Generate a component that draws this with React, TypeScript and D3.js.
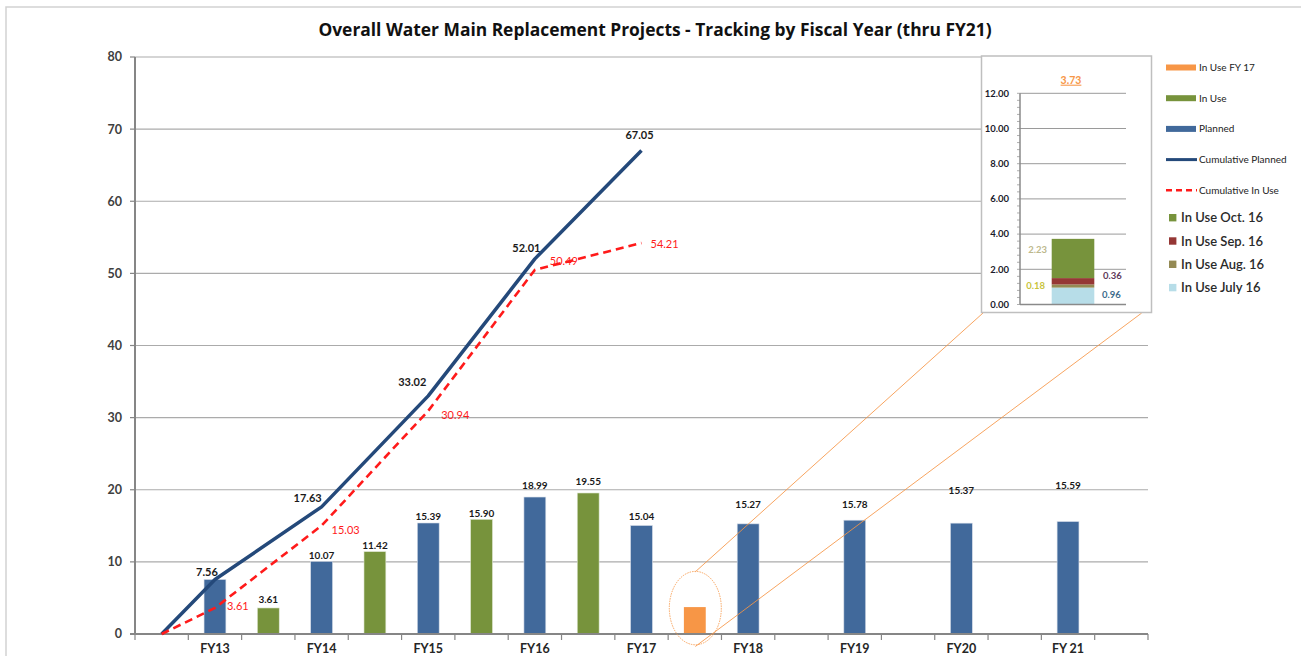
import React from "react";
import * as d3 from "d3";

// ---------- data ----------
const fiscalYears = ["FY13", "FY14", "FY15", "FY16", "FY17", "FY18", "FY19", "FY20", "FY 21"];
const planned = [7.56, 10.07, 15.39, 18.99, 15.04, 15.27, 15.78, 15.37, 15.59];
const inUse = [3.61, 11.42, 15.9, 19.55];
const inUseFY17 = 3.73;
const cumulativePlanned = [0, 7.56, 17.63, 33.02, 52.01, 67.05];
const cumulativeInUse = [0, 3.61, 15.03, 30.94, 50.49, 54.21];
const yTicks = [0, 10, 20, 30, 40, 50, 60, 70, 80];

const insetMonths = ["In Use July 16", "In Use Aug. 16", "In Use Sep. 16", "In Use Oct. 16"];
const insetValues = [0.96, 0.18, 0.36, 2.23];
const insetTicks = [0, 2, 4, 6, 8, 10, 12];

const title = "Overall Water Main Replacement Projects - Tracking by Fiscal Year (thru FY21)";

// ---------- styles ----------
const FONT = "Lato, 'Open Sans', sans-serif";
const C_PLANNED = "#41699B";
const C_INUSE = "#77933C";
const C_ORANGE = "#F79646";
const C_NAVY = "#24497A";
const C_RED = "#FF1A1A";
const insetColors = ["#B7DDE8", "#948A54", "#953735", "#77933C"];
const insetLabelColors = ["#3E6C8C", "#C8C43A", "#5E3A5A", "#BDB88C"];

// label offsets (styling, not data)
const plannedLabelLift = [0, 5.4, 6.3, 12, 9.5, 19, 16, 33, 35.6];
const inUseLabelLift = [8, 6, 6, 11];
const cumPlannedLabelOffset: [number, number][] = [[0, 0], [-8, -7.5], [-14, -9], [-16, -14], [-8.5, -11], [-2, -15]];
const cumInUseLabelOffset: [number, number][] = [[0, 0], [12, -2], [10, 4.5], [13, 4], [15, -9], [9, 1]];

export default function App() {
  const slots = d3.range(fiscalYears.length * 2 + 1);
  const x = d3.scaleBand<number>().domain(slots).range([135, 1148]).padding(0);
  const bw = x.bandwidth();
  const cx = (s: number) => (x(s) as number) + bw / 2;
  const y = d3.scaleLinear().domain([0, 80]).range([634, 57]);
  const barW = bw * 0.41;

  const plannedSlot = (i: number) => 1 + 2 * i;
  const inUseSlot = (i: number) => 2 + 2 * i;
  const cumSlot = (k: number) => (k === 0 ? 0 : 2 * k - 1);

  const line = d3
    .line<number>()
    .x((_, k) => cx(cumSlot(k)))
    .y((v) => y(v));

  // inset
  const iy = d3.scaleLinear().domain([0, 12]).range([304.5, 93.3]);
  const ix0 = 1051.7;
  const iw = 42.6;
  const stackEnds = d3.cumsum(insetValues);
  const insetTotal = d3.sum(insetValues);
  const minorTicks = d3.range(0, 12.001, 0.4);

  const inUseAll = [...inUse, inUseFY17];

  const legend1 = [
    { label: "In Use FY 17", kind: "rect", color: C_ORANGE },
    { label: "In Use", kind: "rect", color: C_INUSE },
    { label: "Planned", kind: "rect", color: C_PLANNED },
    { label: "Cumulative Planned", kind: "line", color: C_NAVY },
    { label: "Cumulative In Use", kind: "dash", color: C_RED },
  ];
  const legend2 = [3, 2, 1, 0];

  // zoom ellipse geometry
  const ex = cx(inUseSlot(4)) + 0.5;
  const ey = y(inUseFY17) + 1;

  return (
    <svg width={1301} height={656} style={{ position: "absolute", left: 0, top: 0, display: "block" }} fontFamily={FONT}>
      <rect x={0} y={0} width={1301} height={656} fill="#fff" />
      <rect x={6} y={7} width={1310} height={700} fill="#fff" stroke="#d2d2d2" strokeWidth={1.5} />
      <text x={655} y={36} textAnchor="middle" fontSize={17.4} fontWeight={700} fill="#111" fontFamily="'Open Sans', Lato, sans-serif">
        {title}
      </text>

      {/* gridlines */}
      {yTicks.map((t) => (
        <line key={"g" + t} x1={135} x2={1148} y1={y(t)} y2={y(t)} stroke="#ababab" strokeWidth={1.2} />
      ))}
      {/* y axis */}
      <line x1={135} x2={135} y1={y(80)} y2={y(0)} stroke="#868686" strokeWidth={2} />
      {yTicks.map((t) => (
        <g key={"yt" + t}>
          <line x1={130} x2={135} y1={y(t)} y2={y(t)} stroke="#868686" strokeWidth={1.2} />
          <text x={122} y={y(t)} dy="0.35em" textAnchor="end" fontSize={12.5} fontWeight={700} fill="#404040">
            {t}
          </text>
        </g>
      ))}

      {/* bars */}
      {planned.map((v, i) => (
        <rect key={"p" + i} x={cx(plannedSlot(i)) - barW / 2} y={y(v)} width={barW} height={y(0) - y(v)} fill={C_PLANNED} stroke="#d6dde8" strokeWidth={0.6} />
      ))}
      {inUseAll.map((v, i) => (
        <rect key={"u" + i} x={cx(inUseSlot(i)) - barW / 2} y={y(v)} width={barW} height={y(0) - y(v)} fill={i === 4 ? C_ORANGE : C_INUSE} stroke={i === 4 ? "none" : "#dfe6d2"} strokeWidth={0.6} />
      ))}

      {/* bar labels */}
      {planned.map((v, i) =>
        i === 0 ? null : (
          <text key={"pl" + i} x={cx(plannedSlot(i))} y={y(v) - plannedLabelLift[i]} dy="0.35em" textAnchor="middle" fontSize={10} fontWeight={700} fill="#1a1a1a">
            {v.toFixed(2)}
          </text>
        )
      )}
      {inUse.map((v, i) => (
        <text key={"ul" + i} x={cx(inUseSlot(i))} y={y(v) - inUseLabelLift[i]} dy="0.35em" textAnchor="middle" fontSize={10} fontWeight={700} fill="#1a1a1a">
          {v.toFixed(2)}
        </text>
      ))}

      {/* x axis */}
      <line x1={130} x2={1148} y1={y(0)} y2={y(0)} stroke="#868686" strokeWidth={2} />
      {[...slots, slots.length].map((s) => {
        const xx = s === slots.length ? 1148 : (x(s) as number);
        return <line key={"xt" + s} x1={xx} x2={xx} y1={y(0)} y2={y(0) + 6} stroke="#868686" strokeWidth={1.2} />;
      })}
      {fiscalYears.map((fy, i) => (
        <text key={"xl" + i} x={cx(plannedSlot(i))} y={653} textAnchor="middle" fontSize={12.5} fontWeight={700} fill="#262626">
          {fy}
        </text>
      ))}

      {/* cumulative lines */}
      <path d={line(cumulativePlanned) || ""} fill="none" stroke={C_NAVY} strokeWidth={3.5} strokeLinejoin="round" />
      <path d={line(cumulativeInUse) || ""} fill="none" stroke={C_RED} strokeWidth={2.6} strokeDasharray="8,5" />
      {cumulativePlanned.map((v, k) =>
        k === 0 ? null : (
          <text key={"cpl" + k} x={cx(cumSlot(k)) + cumPlannedLabelOffset[k][0]} y={y(v) + cumPlannedLabelOffset[k][1]} dy="0.35em" textAnchor="middle" fontSize={11} fontWeight={700} fill="#1a1a1a">
            {v.toFixed(2)}
          </text>
        )
      )}
      {cumulativeInUse.map((v, k) =>
        k === 0 ? null : (
          <text key={"cul" + k} x={cx(cumSlot(k)) + cumInUseLabelOffset[k][0]} y={y(v) + cumInUseLabelOffset[k][1]} dy="0.35em" textAnchor="start" fontSize={11} fill={C_RED}>
            {v.toFixed(2)}
          </text>
        )
      )}

      {/* zoom callout */}
      <ellipse cx={ex} cy={ey} rx={26} ry={36.7} fill="none" stroke={C_ORANGE} strokeWidth={1} strokeDasharray="1.5,1" opacity={0.85} />
      <line x1={ex} y1={ey - 36.3} x2={983} y2={313} stroke={C_ORANGE} strokeWidth={1} opacity={0.85} />
      <line x1={ex} y1={ey + 38.4} x2={1141.7} y2={313} stroke={C_ORANGE} strokeWidth={1} opacity={0.85} />

      {/* inset */}
      <rect x={981.5} y={56} width={170} height={256.5} fill="#fff" stroke="#bfbfbf" strokeWidth={1.5} />
      {insetTicks.map((t) => (
        <g key={"it" + t}>
          <line x1={1020} x2={1126} y1={iy(t)} y2={iy(t)} stroke="#9a9a9a" strokeWidth={1} />
          <text x={1009} y={iy(t)} dy="0.35em" textAnchor="end" fontSize={9.5} fontWeight={700} fill="#1b1b2b">
            {t.toFixed(2)}
          </text>
        </g>
      ))}
      {minorTicks.map((t, i) => (
        <line key={"mt" + i} x1={1017} x2={1020} y1={iy(t)} y2={iy(t)} stroke="#9a9a9a" strokeWidth={0.8} />
      ))}
      <line x1={1020} x2={1020} y1={iy(12)} y2={iy(0)} stroke="#8a8a8a" strokeWidth={1.5} />
      {insetValues.map((v, i) => (
        <rect key={"is" + i} x={ix0} y={iy(stackEnds[i])} width={iw} height={iy(stackEnds[i] - v) - iy(stackEnds[i])} fill={insetColors[i]} />
      ))}
      <line x1={1020} x2={1126} y1={iy(0)} y2={iy(0)} stroke="#8a8a8a" strokeWidth={1.5} />
      {/* inset labels */}
      <text x={1102} y={iy(insetValues[0] / 2) - 1} dy="0.35em" fontSize={9.5} fontWeight={700} fill={insetLabelColors[0]}>
        {insetValues[0].toFixed(2)}
      </text>
      <text x={1045} y={iy(stackEnds[1] - insetValues[1] / 2)} dy="0.35em" textAnchor="end" fontSize={9.5} fontWeight={700} fill={insetLabelColors[1]}>
        {insetValues[1].toFixed(2)}
      </text>
      <text x={1103} y={iy(stackEnds[2] - insetValues[2] / 2) - 5.5} dy="0.35em" fontSize={9.5} fontWeight={700} fill={insetLabelColors[2]}>
        {insetValues[2].toFixed(2)}
      </text>
      <text x={1047} y={iy(stackEnds[3] - insetValues[3] / 2) - 9} dy="0.35em" textAnchor="end" fontSize={9.5} fontWeight={700} fill={insetLabelColors[3]}>
        {insetValues[3].toFixed(2)}
      </text>
      <text x={1071} y={80} dy="0.35em" textAnchor="middle" fontSize={10.5} fontWeight={700} fill={C_ORANGE} textDecoration="underline">
        {insetTotal.toFixed(2)}
      </text>

      {/* legend 1 */}
      {legend1.map((d, i) => {
        const ly = 67.5 + i * 30.7;
        return (
          <g key={"l1" + i}>
            {d.kind === "rect" && <rect x={1166} y={ly - 3} width={30} height={6} fill={d.color} />}
            {d.kind === "line" && <line x1={1166} x2={1197} y1={ly} y2={ly} stroke={d.color} strokeWidth={3} />}
            {d.kind === "dash" && <line x1={1166} x2={1197} y1={ly} y2={ly} stroke={d.color} strokeWidth={2.5} strokeDasharray="6,4" />}
            <text x={1199} y={ly} dy="0.35em" fontSize={10} fill="#222">
              {d.label}
            </text>
          </g>
        );
      })}
      {/* legend 2 (inset) */}
      {legend2.map((idx, j) => {
        const ly = 217.7 + j * 23.3;
        return (
          <g key={"l2" + j}>
            <rect x={1169} y={ly - 3.7} width={7.4} height={7.4} fill={insetColors[idx]} />
            <text x={1181} y={ly} dy="0.35em" fontSize={13} fill="#2a2a2a" fontWeight={600}>
              {insetMonths[idx]}
            </text>
          </g>
        );
      })}
    </svg>
  );
}
